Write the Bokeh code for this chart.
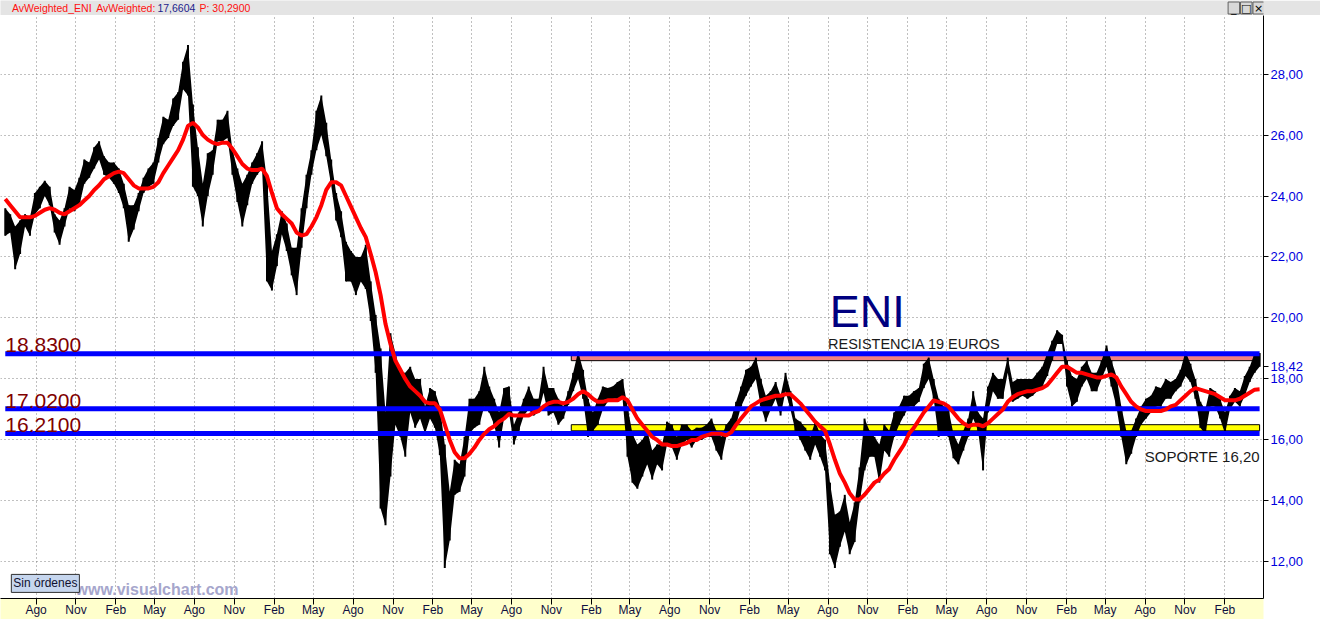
import pandas as pd
from bokeh.plotting import figure
from bokeh.layouts import column
from bokeh.models import FixedTicker, CustomJSTickFormatter, Label, Range1d
from bokeh.core.properties import value
from bokeh.embed import file_html
from bokeh.resources import INLINE

# ---------------- data ----------------
first_date = "2006-05-22"
last_date = "2014-04-22"
view_start = "2006-05-11"
view_end = "2014-05-01"

price_high = [
    23.6, 23.4, 23.0, 23.2, 23.4, 23.3, 24.1, 24.3, 24.5, 24.3,
    23.4, 23.2, 23.6, 24.3, 24.2, 24.6, 25.2, 25.1, 25.6, 25.8,
    25.3, 25.1, 25.1, 24.9, 24.4, 23.7, 23.7, 24.1, 24.6, 24.9,
    25.1, 25.9, 26.6, 26.5, 27.2, 27.4, 28.4, 28.95, 27.0, 25.6,
    24.4, 25.4, 25.5, 26.5, 26.5, 26.8, 25.5, 24.9, 24.4, 24.7,
    25.1, 25.4, 25.8, 24.5, 22.2, 22.75, 23.5, 23.1, 22.3, 22.3,
    23.6, 24.7, 25.5, 26.8, 27.3, 26.4, 25.2, 24.1, 23.5, 22.5,
    22.2, 22.0, 22.0, 22.4, 21.2, 20.1, 19.0, 16.9, 19.5, 18.85,
    18.2, 18.2, 18.4, 18.0, 18.0, 17.1, 17.7, 17.6, 17.1, 15.85,
    14.3, 15.35, 15.2, 16.1, 17.35, 17.35, 17.6, 18.4, 17.75, 17.35,
    16.9, 17.7, 17.75, 16.5, 16.9, 17.35, 17.75, 17.35, 17.35, 18.4,
    17.7, 17.7, 17.35, 17.1, 17.6, 18.2, 18.9, 18.3, 17.35, 16.9,
    17.35, 17.75, 17.7, 17.75, 17.9, 18.0, 17.1, 16.2, 15.85, 16.0,
    16.3, 15.65, 15.85, 15.85, 16.6, 16.5, 16.1, 16.5, 16.5, 16.3,
    16.4, 16.4, 16.5, 16.7, 16.3, 16.1, 16.5, 16.7, 17.25, 17.75,
    18.3, 18.4, 18.7, 18.0, 17.45, 17.6, 17.9, 17.45, 18.2, 17.6,
    16.7, 16.6, 16.4, 16.1, 16.6, 16.2, 16.0, 14.6, 13.55, 13.65,
    14.2, 13.3, 13.95, 15.1, 16.7, 16.3, 16.1, 15.85, 16.5, 16.3,
    16.9, 17.1, 17.45, 17.45, 17.6, 17.7, 18.5, 18.7, 18.0, 17.35,
    17.1, 17.0, 16.2, 15.85, 16.3, 16.7, 17.6, 16.9, 16.7, 17.75,
    18.2, 18.0, 18.0, 18.7, 17.9, 18.0, 18.0, 18.0, 18.0, 18.2,
    18.4, 18.85, 19.25, 19.6, 19.45, 18.6, 18.1, 18.0, 18.4, 18.6,
    18.2, 18.2, 18.6, 19.1, 18.6, 18.1, 17.1, 16.3, 16.3, 16.7,
    17.1, 17.35, 17.45, 17.75, 17.7, 18.0, 17.9, 18.0, 18.3, 18.9,
    18.5, 18.0, 17.25, 17.0, 17.7, 17.6, 17.35, 16.9, 17.45, 17.7,
    17.6, 18.1, 18.4, 18.85, 18.85,
]

price_low = [
    22.7, 22.8, 21.6, 22.1, 23.0, 22.7, 23.4, 23.6, 24.0, 23.7,
    22.8, 22.4, 23.0, 23.6, 23.5, 23.7, 24.4, 24.6, 24.9, 25.2,
    24.7, 24.6, 24.4, 24.1, 23.6, 22.5, 22.9, 23.5, 24.1, 24.3,
    24.4, 25.1, 25.7, 25.9, 26.3, 26.5, 27.5, 27.3, 24.3, 24.0,
    23.0, 24.0, 24.7, 25.8, 25.8, 25.9, 24.7, 23.8, 23.0, 23.7,
    24.4, 24.7, 24.9, 21.2, 20.9, 21.7, 22.75, 22.2, 21.4, 20.75,
    22.3, 23.6, 24.7, 25.5, 26.0, 25.3, 24.35, 23.2, 22.65, 21.2,
    21.2, 20.75, 21.2, 20.95, 19.9, 18.2, 13.75, 13.2, 14.8, 16.5,
    16.1, 15.45, 16.9, 16.4, 16.7, 16.2, 16.7, 16.4, 15.5, 11.8,
    12.7, 14.2, 14.3, 14.8, 16.2, 16.4, 16.5, 17.1, 16.9, 16.5,
    15.75, 16.7, 16.9, 15.85, 16.3, 16.8, 17.0, 16.8, 16.9, 17.55,
    16.8, 16.9, 16.5, 16.7, 17.15, 17.6, 18.0, 17.35, 16.1, 16.3,
    16.5, 17.0, 17.25, 17.35, 17.35, 17.35, 15.45, 14.6, 14.4, 14.8,
    15.2, 14.7, 15.2, 15.0, 15.85, 15.75, 15.35, 15.85, 16.0, 15.75,
    16.0, 16.0, 16.1, 16.1, 15.65, 15.35, 16.1, 16.3, 16.5, 17.1,
    17.45, 17.75, 18.0, 17.1, 16.6, 17.0, 17.35, 16.8, 17.6, 17.0,
    16.3, 16.0, 15.65, 15.35, 15.85, 15.45, 15.0, 12.25, 11.8, 12.5,
    13.0, 12.25, 12.65, 13.95, 15.0, 15.45, 15.45, 14.6, 15.65, 15.45,
    16.1, 16.5, 16.8, 17.1, 17.1, 17.25, 17.7, 18.0, 17.35, 16.1,
    16.3, 16.1, 15.4, 15.2, 15.65, 16.1, 16.7, 16.3, 15.0, 16.9,
    17.6, 17.35, 17.35, 18.2, 17.25, 17.35, 17.45, 17.35, 17.45, 17.6,
    17.75, 18.1, 18.6, 19.15, 19.15, 17.75, 17.1, 17.25, 17.75, 18.0,
    17.6, 17.6, 18.0, 18.4, 17.75, 17.1, 16.1, 15.2, 15.55, 16.1,
    16.5, 16.7, 16.9, 17.1, 17.1, 17.35, 17.35, 17.6, 17.75, 18.1,
    17.9, 17.35, 16.4, 16.2, 17.1, 17.1, 16.7, 16.2, 17.0, 17.25,
    17.1, 17.45, 17.9, 18.2, 18.4,
]

av_weighted = [
    23.9, 23.7, 23.5, 23.3, 23.3, 23.3, 23.35, 23.45, 23.55, 23.6,
    23.55, 23.45, 23.4, 23.5, 23.6, 23.7, 23.85, 24.0, 24.2, 24.35,
    24.55, 24.65, 24.75, 24.8, 24.75, 24.55, 24.35, 24.25, 24.25, 24.25,
    24.3, 24.45, 24.75, 25.0, 25.25, 25.5, 25.85, 26.3, 26.4, 26.25,
    26.0, 25.85, 25.75, 25.7, 25.75, 25.75, 25.55, 25.3, 25.05, 24.9,
    24.85, 24.85, 24.9, 24.65, 24.1, 23.6, 23.4, 23.25, 23.1, 22.8,
    22.7, 22.75, 23.0, 23.3, 23.7, 24.2, 24.45, 24.45, 24.35, 24.0,
    23.65, 23.3, 22.95, 22.65, 22.1, 21.5, 20.75, 19.8, 19.15, 18.6,
    18.3, 18.0, 17.75, 17.6, 17.45, 17.25, 17.2, 17.2, 17.0, 16.5,
    16.0, 15.6, 15.4, 15.4, 15.55, 15.75, 16.0, 16.2, 16.35, 16.45,
    16.6, 16.7, 16.85, 16.8, 16.8, 16.8, 16.8, 16.9, 16.95, 17.1,
    17.2, 17.25, 17.25, 17.2, 17.25, 17.35, 17.5, 17.6, 17.5, 17.35,
    17.25, 17.25, 17.3, 17.3, 17.3, 17.4, 17.3, 17.0, 16.7, 16.5,
    16.3, 16.1, 16.0, 15.85, 15.85, 15.8, 15.8, 15.85, 15.9, 16.0,
    16.0, 16.1, 16.15, 16.2, 16.2, 16.2, 16.15, 16.25, 16.5, 16.7,
    16.9, 17.1, 17.2, 17.3, 17.35, 17.4, 17.45, 17.45, 17.5, 17.5,
    17.35, 17.2, 17.0, 16.8, 16.6, 16.45, 16.3, 15.85, 15.35, 14.9,
    14.6, 14.25, 14.05, 14.05, 14.2, 14.4, 14.6, 14.7, 14.9, 15.05,
    15.35, 15.6, 15.85, 16.2, 16.4, 16.65, 16.9, 17.1, 17.3, 17.25,
    17.2, 17.1, 16.9, 16.7, 16.55, 16.45, 16.5, 16.5, 16.45, 16.55,
    16.7, 16.85, 17.0, 17.25, 17.4, 17.5, 17.55, 17.6, 17.6, 17.65,
    17.7, 17.8, 18.0, 18.2, 18.4, 18.4, 18.3, 18.2, 18.2, 18.15,
    18.1, 18.05, 18.05, 18.1, 18.15, 18.05, 17.75, 17.5, 17.25, 17.1,
    17.0, 16.95, 16.95, 16.95, 16.95, 17.0, 17.1, 17.15, 17.3, 17.45,
    17.6, 17.7, 17.65, 17.6, 17.55, 17.5, 17.4, 17.3, 17.3, 17.3,
    17.35, 17.45, 17.55, 17.65, 17.66,
]

levels = [18.83, 17.02, 16.21]
resistance_band = [18.60, 18.83]
support_band = [16.30, 16.50]
band_start = "2009-12-17"
last_price = 18.42
y_ticks = [12, 14, 16, 18, 20, 22, 24, 26, 28]
month_names = ["Ene", "Feb", "Mar", "Abr", "May", "Jun", "Jul", "Ago", "Sep", "Oct", "Nov", "Dic"]
tick_months = pd.date_range("2006-08-01", "2014-02-01", freq="3MS")

header_parts = ["AvWeighted_ENI", "AvWeighted:", "17,6604", "P: 30,2900"]
header_colors = ["#ff1010", "#ff1010", "#1c1c8c", "#ff1010"]

# ---------------- derived ----------------
dates = pd.date_range(first_date, last_date, periods=len(price_high))
ma_dates = pd.date_range(first_date, last_date, periods=len(av_weighted))
tick_ms = [float(t.value // 10**6) for t in tick_months]
font = value("Liberation Sans")

# ---------------- header strip ----------------
W = 1320
h = figure(width=W, height=15, x_range=Range1d(0, W), y_range=Range1d(0, 15),
           toolbar_location=None, output_backend="svg", min_border=0,
           background_fill_color="#e4e4e4", border_fill_color="#e4e4e4",
           outline_line_color=None)
h.axis.visible = False
h.grid.visible = False
h.text(x=[12, 100, 164, 208], y=[7.5] * 4, text=header_parts, text_color=header_colors,
       text_font=font, text_font_size="10.5px", text_baseline="middle")
h.rect(x=[1289, 1302, 1315], y=[7.5] * 3, width=12, height=12,
       fill_color="#d8d8d8", line_color="#606060")
h.text(x=[1289, 1302, 1315], y=[7.5] * 3, text=["_", "\u25a1", "\u00d7"],
       text_font=value("DejaVu Sans"), text_font_size="11px",
       text_align="center", text_baseline="middle", text_color="black")

# ---------------- main chart ----------------
p = figure(width=W, height=604, x_axis_type="datetime", y_axis_location="right",
           x_range=Range1d(pd.Timestamp(view_start), pd.Timestamp(view_end)),
           y_range=Range1d(10.8, 29.92),
           toolbar_location=None, output_backend="svg",
           min_border_left=0, min_border_right=57, min_border_top=0, min_border_bottom=18,
           background_fill_color="white", border_fill_color="white",
           outline_line_color=None)

# bands
p.quad(left=[pd.Timestamp(band_start)] * 2, right=[dates[-1]] * 2,
       bottom=[resistance_band[0], support_band[0]],
       top=[resistance_band[1], support_band[1]],
       fill_color=["#f28080", "#ffff00"], line_color="black", line_width=1)

# price
p.varea(x=dates, y1=price_low, y2=price_high, fill_color="black")
p.segment(x0=dates, x1=dates, y0=price_low, y1=price_high, line_color="black", line_width=2)

# horizontal levels
p.segment(x0=[dates[0]] * len(levels), x1=[dates[-1]] * len(levels), y0=levels, y1=levels,
          line_color="#0000ff", line_width=5)

# moving average
p.line(ma_dates, av_weighted, line_color="#ff0000", line_width=4)

# level labels
p.text(x=[dates[0]] * len(levels), y=[lv + 0.27 for lv in levels],
       text=[f"{lv:.4f}" for lv in levels], text_font=font, text_font_size="21px",
       text_color="#800000", text_baseline="alphabetic")

p.text(x=[pd.Timestamp("2011-08-05")], y=[20.2], text=["ENI"], text_font=font,
       text_font_size="45px", text_color="#000080", text_baseline="alphabetic")
p.text(x=[pd.Timestamp("2011-08-01")], y=[19.16], text=["RESISTENCIA 19 EUROS"], text_font=font,
       text_font_size="14.5px", text_color="#1a1a1a", text_baseline="alphabetic")
p.text(x=[dates[-1]], y=[15.47], text=["SOPORTE 16,20"], text_font=font,
       text_font_size="15px", text_color="#1a1a1a", text_baseline="alphabetic",
       text_align="right")

p.text(x=[pd.Timestamp("2006-10-31")], y=[11.08], text=["www.visualchart.com"],
       text_font=font, text_font_size="16px", text_font_style="bold",
       text_color="#a6a6cc", text_baseline="alphabetic")
p.add_layout(Label(x=pd.Timestamp("2006-06-05"), y=11.0, text="Sin órdenes",
                   text_font="Liberation Sans", text_font_size="12px", text_color="#101030",
                   text_baseline="bottom", background_fill_color="#c6d6ee",
                   border_line_color="#303030", padding=2))

# axes (the last price is marked on the price axis too)
p.yaxis.ticker = FixedTicker(ticks=y_ticks + [last_price])
p.ygrid.ticker = FixedTicker(ticks=y_ticks)
p.yaxis.formatter = CustomJSTickFormatter(code="return tick.toFixed(2).replace('.', ',');")
p.yaxis.axis_line_color = "black"
p.yaxis.major_tick_line_color = "black"
p.yaxis.major_tick_out = 5
p.yaxis.major_tick_in = 0
p.yaxis.minor_tick_line_color = None
p.yaxis.major_label_text_color = "#0000dd"
p.yaxis.major_label_text_font = "Liberation Sans"
p.yaxis.major_label_text_font_size = "13px"
p.yaxis.major_label_standoff = 2

xt = FixedTicker(ticks=tick_ms)
p.xaxis.ticker = xt
p.xgrid.ticker = xt
p.xaxis.formatter = CustomJSTickFormatter(args=dict(names=month_names),
                                          code="return names[new Date(tick).getUTCMonth()];")
p.xaxis.axis_line_color = "black"
p.xaxis.major_tick_line_color = "black"
p.xaxis.major_tick_out = 6
p.xaxis.major_tick_in = 0
p.xaxis.minor_tick_line_color = None
p.xaxis.major_label_text_align = "left"
p.xaxis.major_label_standoff = -2
p.xaxis.major_label_text_color = "#101040"
p.xaxis.major_label_text_font = "Liberation Sans"
p.xaxis.major_label_text_font_size = "12px"
p.xaxis.background_fill_color = "#ffffcc"

for g in (p.xgrid, p.ygrid):
    g.grid_line_color = "#808080"
    g.grid_line_dash = "1 3"
    g.grid_line_width = 1

layout = column(h, p, spacing=0)
open("out.html", "w").write(file_html(layout, INLINE))
